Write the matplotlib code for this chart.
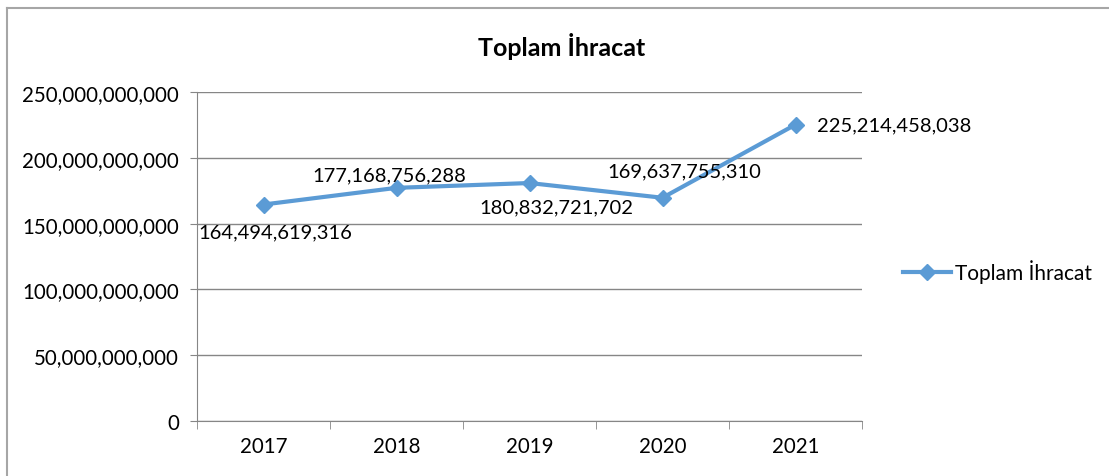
import matplotlib
matplotlib.use("Agg")
import matplotlib.pyplot as plt
from matplotlib.lines import Line2D
from matplotlib.ticker import FuncFormatter

plt.rcParams['font.family'] = ['Lato', 'DejaVu Sans']

years = ['2017', '2018', '2019', '2020', '2021']
exports = [164494619316, 177168756288, 180832721702, 169637755310, 225214458038]
# label offsets in pixels (dx, dy) relative to each point
label_offsets = [(12, -27), (-7, 13), (27, -24), (22, 27), (99, 0)]

blue = '#5B9BD5'
grey = '#868686'

fig = plt.figure(figsize=(11.09, 4.77), dpi=100)
ax = fig.add_axes([197 / 1109, 1 - 422 / 477, 665 / 1109, 329 / 477])

x = list(range(len(years)))
ax.plot(x, exports, color=blue, lw=3, marker='D', ms=8, label='Toplam İhracat', zorder=3)

for i, v in enumerate(exports):
    dx, dy = label_offsets[i]
    ax.annotate(f'{v:,}', (x[i], v), xytext=(dx, dy), textcoords='offset pixels',
                ha='center', va='center', fontsize=14.5)

ax.set_xlim(-0.5, len(years) - 0.5)
ax.set_ylim(0, 250e9)
ax.set_yticks([i * 50e9 for i in range(6)])
ax.yaxis.set_major_formatter(FuncFormatter(lambda v, p: f'{int(v):,}'))
ax.set_xticks(x)
ax.set_xticklabels(years)
ax.set_xticks([i - 0.5 for i in range(len(years) + 1)], minor=True)
ax.tick_params(axis='x', which='major', length=0, pad=11, labelsize=14.8)
ax.tick_params(axis='x', which='minor', length=6, color=grey, direction='out')
ax.tick_params(axis='y', length=5, color=grey, pad=8, labelsize=14.8)
ax.grid(axis='y', color=grey, lw=1)
ax.set_axisbelow(True)
for s in ['top', 'right']:
    ax.spines[s].set_visible(False)
for s in ['left', 'bottom']:
    ax.spines[s].set_color(grey)

fig.text(562 / 1109, 1 - 46 / 477, 'Toplam İhracat', ha='center', va='center',
         fontsize=18, fontweight='bold')

ax.legend(loc='center left', bbox_to_anchor=(884 / 1109, 1 - 272 / 477),
          bbox_transform=fig.transFigure, frameon=False, fontsize=15,
          handlelength=2.3, handletextpad=0.2)

# outer chart frame
fig.add_artist(Line2D([7 / 1109, 7 / 1109], [0, 1 - 9 / 477], color='#A6A6A6', lw=1.5))
fig.add_artist(Line2D([7 / 1109, 1], [1 - 9 / 477, 1 - 9 / 477], color='#A6A6A6', lw=1.5))

fig.savefig('out.png', dpi=100)
